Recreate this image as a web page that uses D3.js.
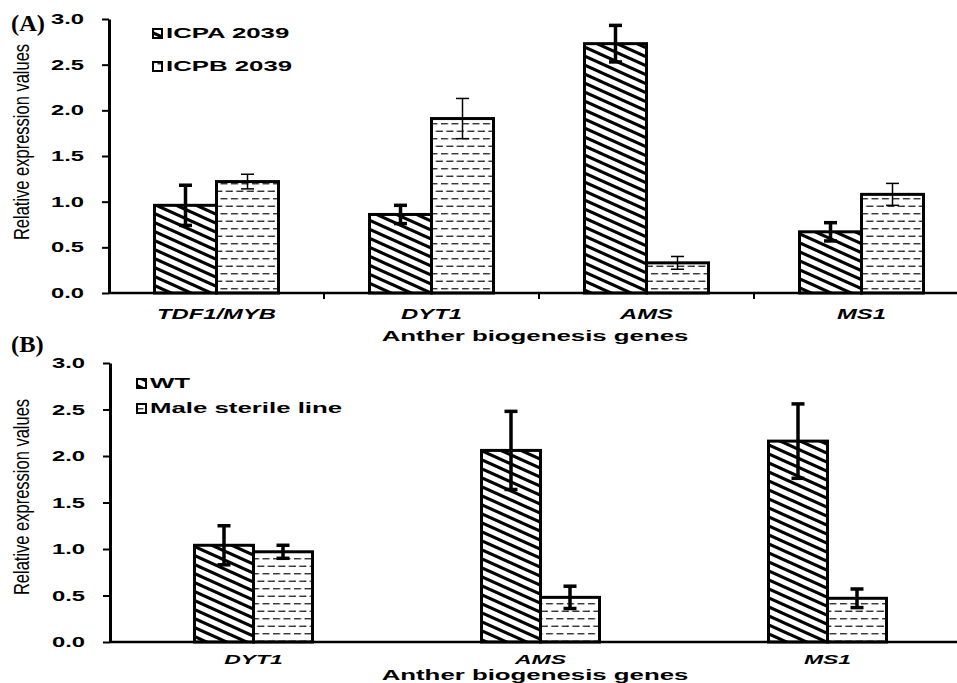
<!DOCTYPE html>
<html>
<head>
<meta charset="utf-8">
<script src="https://cdn.jsdelivr.net/npm/d3@7/dist/d3.min.js"></script>
<style>
  html, body { margin: 0; padding: 0; background: #fff; }
  svg { display: block; }
</style>
</head>
<body>
<svg id="chart" width="957" height="683"></svg>
<script>
// ---------- DATA ----------
const categoriesA = ["TDF1/MYB", "DYT1", "AMS", "MS1"];
const seriesA = ["ICPA 2039", "ICPB 2039"];
const icpaValues = [0.96, 0.86, 2.73, 0.67];
const icpaErrors = [0.22, 0.10, 0.20, 0.10];
const icpbValues = [1.22, 1.91, 0.33, 1.08];
const icpbErrors = [0.08, 0.22, 0.07, 0.12];

const categoriesB = ["DYT1", "AMS", "MS1"];
const seriesB = ["WT", "Male sterile line"];
const wtValues = [1.04, 2.06, 2.16];
const wtErrors = [0.21, 0.42, 0.40];
const mslValues = [0.97, 0.48, 0.47];
const mslErrors = [0.07, 0.12, 0.10];

const yTicks = [0, 0.5, 1.0, 1.5, 2.0, 2.5, 3.0];
const xTitle = "Anther biogenesis genes";
const yTitle = "Relative expression values";

// ---------- SETUP ----------
const svg = d3.select("#chart");
const SANS = "'Liberation Sans', Arial, sans-serif";
const SERIF = "'Liberation Serif', 'Times New Roman', serif";

const defs = svg.append("defs");
// diagonal hatch "\\\"
const hatch = defs.append("pattern").attr("id", "hatch")
  .attr("patternUnits", "userSpaceOnUse").attr("width", 20).attr("height", 9);
hatch.append("rect").attr("width", 20).attr("height", 9).attr("fill", "#fff");
[[0, 0, 20, 9], [-2, -9.9, 22, 0.9], [-2, 8.1, 22, 18.9]].forEach(l => {
  hatch.append("line").attr("x1", l[0]).attr("y1", l[1]).attr("x2", l[2]).attr("y2", l[3])
    .attr("stroke", "#000").attr("stroke-width", 3.1);
});
// horizontal dashes (brick)
const dash = defs.append("pattern").attr("id", "dash")
  .attr("patternUnits", "userSpaceOnUse").attr("width", 10.5).attr("height", 15);
dash.append("rect").attr("width", 10.5).attr("height", 15).attr("fill", "#fff");
[[0, 7, 3.75], [5.25, 12.25, 11.25], [-5.25, 1.75, 11.25]].forEach(l => {
  dash.append("line").attr("x1", l[0]).attr("x2", l[1]).attr("y1", l[2]).attr("y2", l[2])
    .attr("stroke", "#222").attr("stroke-width", 1.3);
});
const fills = ["url(#hatch)", "url(#dash)"];

function sText(g, x, y, str, o) {
  return g.append("text")
    .attr("transform", `translate(${x},${y}) scale(${o.sx || 1},${o.sy || 1})`)
    .attr("text-anchor", o.anchor || "start")
    .attr("font-family", o.family || SANS)
    .attr("font-weight", o.weight || "bold")
    .attr("font-style", o.style || "normal")
    .attr("font-size", o.size)
    .attr("fill", "#000")
    .text(str);
}

function panel(cfg) {
  const g = svg.append("g");
  const y = d3.scaleLinear().domain([0, 3]).range([cfg.y0, cfg.y3]);
  const x0 = d3.scaleBand().domain(cfg.categories).range([cfg.xLeft, cfg.xRight]).padding(0);
  const po = (x0.bandwidth() / cfg.barW - 2) / 2;
  const x1 = d3.scaleBand().domain(cfg.series).range([0, x0.bandwidth()])
    .paddingInner(0).paddingOuter(po);

  // bars
  cfg.series.forEach((s, si) => {
    const vals = cfg.values[si];
    g.append("g").selectAll("rect").data(cfg.categories).join("rect")
      .attr("x", c => x0(c) + x1(s))
      .attr("y", (c, i) => y(vals[i]))
      .attr("width", x1.bandwidth())
      .attr("height", (c, i) => y(0) - y(vals[i]))
      .attr("fill", fills[si])
      .attr("stroke", "#000").attr("stroke-width", 3);
  });
  // error bars
  cfg.series.forEach((s, si) => {
    const vals = cfg.values[si], errs = cfg.errors[si];
    const eg = g.append("g").attr("stroke", "#000").attr("stroke-width", cfg.errWidth[si]);
    cfg.categories.forEach((c, i) => {
      const cx = x0(c) + x1(s) + x1.bandwidth() / 2;
      const hi = y(vals[i] + errs[i]), lo = y(vals[i] - errs[i]);
      eg.append("line").attr("x1", cx).attr("x2", cx).attr("y1", hi).attr("y2", lo);
      eg.append("line").attr("x1", cx - 6.5).attr("x2", cx + 6.5).attr("y1", hi).attr("y2", hi);
      eg.append("line").attr("x1", cx - 6.5).attr("x2", cx + 6.5).attr("y1", lo).attr("y2", lo);
    });
  });

  // x axis line
  g.append("line").attr("x1", cfg.xLeft).attr("x2", 957).attr("y1", y(0)).attr("y2", y(0))
    .attr("stroke", "#000").attr("stroke-width", 2.5);
  if (cfg.xTicks) {
    cfg.categories.slice(1).forEach(c => {
      g.append("line").attr("x1", x0(c)).attr("x2", x0(c)).attr("y1", y(0)).attr("y2", y(0) + 6)
        .attr("stroke", "#000").attr("stroke-width", 2);
    });
  }
  // y axis
  const ya = g.append("g").attr("transform", `translate(${cfg.xLeft},0)`)
    .call(d3.axisLeft(y).tickValues(yTicks).tickSize(7).tickSizeOuter(0).tickFormat(""));
  ya.select(".domain").attr("stroke", "#000").attr("stroke-width", 3);
  ya.selectAll(".tick line").attr("stroke", "#000").attr("stroke-width", 2);
  yTicks.forEach(t => {
    sText(g, cfg.xLeft - 25, y(t) + 5, d3.format(".1f")(t), { size: 14, sx: 1.7, anchor: "end" });
  });

  // category labels
  cfg.categories.forEach(c => {
    sText(g, x0(c) + x0.bandwidth() / 2, cfg.catY, c, { size: cfg.catSize, sx: 1.7, anchor: "middle", style: "italic" });
  });
  // x title
  sText(g, 535, cfg.titleY, xTitle, { size: 15, sx: 1.72, anchor: "middle" });
  // y title
  g.append("text")
    .attr("transform", `translate(${cfg.yTitleX},${cfg.yTitleY}) rotate(-90) scale(1,1.3)`)
    .attr("text-anchor", "middle")
    .attr("font-family", SANS).attr("font-size", 16.5).attr("fill", "#000")
    .text(yTitle);
  // panel letter
  sText(g, 11, cfg.letterY, cfg.letter, { size: 24, sx: 1.02, family: SERIF });

  // legend
  cfg.series.forEach((s, si) => {
    const ly = cfg.legendY[si];
    g.append("rect").attr("x", cfg.legendX).attr("y", ly - 9).attr("width", 9).attr("height", 9)
      .attr("fill", fills[si]).attr("stroke", "#000").attr("stroke-width", 2);
    sText(g, cfg.legendX + 13, ly, s, { size: 15, sx: 1.72 });
  });
}

panel({
  categories: categoriesA, series: seriesA,
  values: [icpaValues, icpbValues], errors: [icpaErrors, icpbErrors],
  y0: 293, y3: 19, xLeft: 109, xRight: 969, barW: 62,
  errWidth: [3.5, 1.5], xTicks: true, catSize: 14,
  catY: 319, titleY: 341, yTitleX: 29, yTitleY: 142,
  letter: "(A)", letterY: 31,
  legendX: 153, legendY: [38, 71]
});

panel({
  categories: categoriesB, series: seriesB,
  values: [wtValues, mslValues], errors: [wtErrors, mslErrors],
  y0: 642, y3: 363, xLeft: 110, xRight: 971, barW: 59,
  errWidth: [3.5, 3.5], xTicks: false, catSize: 13.5,
  catY: 664, titleY: 680, yTitleX: 29, yTitleY: 497,
  letter: "(B)", letterY: 352,
  legendX: 137, legendY: [388, 413]
});
</script>
</body>
</html>
